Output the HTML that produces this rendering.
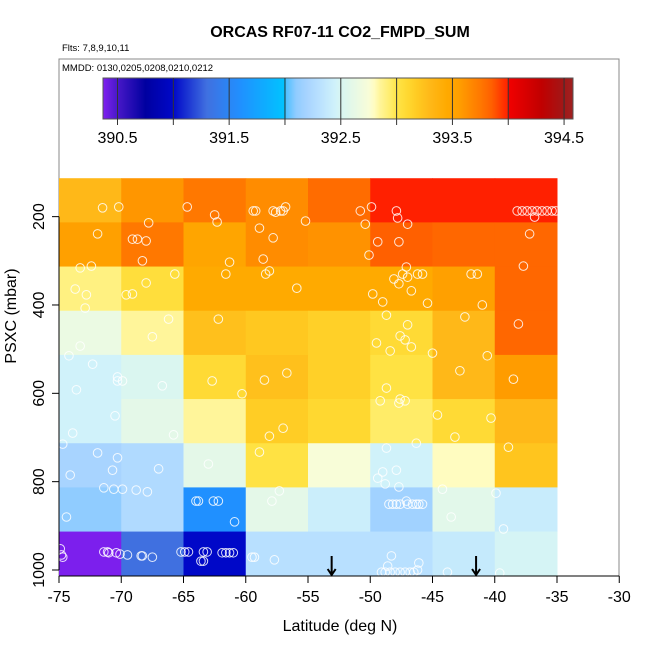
<!DOCTYPE html>
<html><head><meta charset="utf-8"><style>
body{margin:0;background:#fff;}
svg text{font-family:"Liberation Sans",sans-serif;}
</style></head><body>
<svg id="chart" width="650" height="650" xmlns="http://www.w3.org/2000/svg">
<defs><clipPath id="pc"><rect x="59" y="59" width="560" height="517"/></clipPath></defs>
<text x="340" y="37" font-size="16" font-weight="bold" text-anchor="middle">ORCAS RF07-11 CO2_FMPD_SUM</text>
<text x="62" y="51" font-size="9.5">Flts: 7,8,9,10,11</text>
<rect x="59" y="59" width="560" height="517" fill="none" stroke="#888" stroke-width="1"/>
<text x="62" y="71" font-size="9.5">MMDD: 0130,0205,0208,0210,0212</text>
<g id="cells" clip-path="url(#pc)"></g>
<g id="pts" clip-path="url(#pc)"></g>
<g id="arrows"></g>
<g id="cbar"></g>
<g id="axes"></g>
<text x="340" y="631" font-size="16" text-anchor="middle">Latitude (deg N)</text>
<text x="0" y="0" font-size="16" text-anchor="middle" transform="translate(16,316) rotate(-90)">PSXC (mbar)</text>
</svg>
<script>
const lonEdges=[-75,-70,-65,-60,-55,-50,-45,-40,-35];
const presEdges=[113,213,313,413,513,613,713,813,913,1016];
const cellValues=[
[393.3,393.6,393.75,393.65,393.8,394.0,394.0,394.0],
[393.55,393.75,393.5,393.65,393.62,393.85,393.82,393.82],
[392.9,393.05,393.45,393.45,393.45,393.45,393.55,393.82],
[392.65,392.85,393.25,393.2,393.15,393.08,393.3,393.82],
[392.45,392.52,393.08,393.25,393.15,393.02,393.3,393.57],
[392.45,392.6,392.85,393.17,393.1,392.95,393.08,393.3],
[392.2,392.25,392.6,393.02,392.75,392.45,392.8,393.22],
[392.1,392.25,391.6,392.6,392.42,392.17,392.58,392.4],
[390.38,391.3,391.0,392.3,392.3,392.3,392.38,392.48]];
const xTicks=[-75,-70,-65,-60,-55,-50,-45,-40,-35,-30];
const yTicks=[200,400,600,800,1000];
const cbTicks=[390.5,391,391.5,392,392.5,393,393.5,394,394.5];
const cbLabels=["390.5","391.5","392.5","393.5","394.5"];
const arrowLon=[-53.1,-41.5];
const ptLon=[-71.5,-70.2,-67.8,-71.9,-69.1,-68.7,-68.0,-68.3,-73.3,-72.4,-64.7,-62.5,-62.3,-59.4,-59.2,-57.8,-57.6,-57.2,-57.0,-56.8,-55.2,-58.9,-57.8,-61.3,-58.6,-50.8,-49.9,-47.9,-47.8,-47.0,-50.4,-49.4,-47.7,-50.1,
-38.2,-37.8,-37.4,-37.0,-36.6,-36.2,-35.8,-35.4,-35.1,-36.8,-37.2,-37.7,
-65.7,-68.0,-61.6,-58.4,-58.1,-55.9,-73.7,-72.8,-72.9,-69.6,-69.1,-47.1,-47.4,-47.0,-48.1,-47.7,-46.2,-45.8,-46.7,-49.8,-49.0,-45.4,-41.9,-41.4,-41.0,-42.4,-38.1,-62.2,-66.2,-67.5,-73.3,-74.2,-72.3,-48.7,-47.0,-47.6,-47.2,-46.7,-49.5,-48.4,-45.0,-40.6,-42.8,-38.5,-56.7,-62.7,-58.5,-70.3,-69.9,-70.3,-73.6,-66.7,-60.3,-48.7,-49.2,-47.7,-47.6,-47.2,-44.6,-40.3,-43.2,-46.3,-70.5,-73.9,-74.7,-65.8,-58.1,-57.0,-58.9,-38.9,-48.7,-71.9,-70.3,-70.7,-67.0,-74.1,-63.0,-49.0,-47.9,-49.4,-48.8,-47.7,-44.2,-39.9,-71.4,-70.6,-69.9,-68.8,-67.9,-57.3,-57.9,-64.0,-63.8,-62.6,-62.2,-60.9,-74.4,-43.5,-39.3,
-48.5,-48.2,-47.9,-47.6,-47.0,-46.6,-46.3,-46.1,-45.8,-47.1,
-74.9,-74.8,-74.7,-71.4,-71.1,-71.0,-70.4,-70.1,-69.5,-68.4,-68.3,-67.5,-65.2,-64.9,-64.6,-63.4,-63.1,-61.9,-61.6,-61.3,-61.0,-63.6,-63.4,-59.5,-59.3,-57.7,-48.3,-48.6,-46.1,-46.2,
-49.1,-48.8,-48.4,-48.0,-47.6,-47.2,-46.8,-46.5,-43.8,-39.6];
const ptP=[180,178,214,239,251,251,255,300,316,312,178,196,212,187,187,187,190,187,187,178,210,226,248,303,296,187,178,187,203,217,217,257,257,287,
187,187,187,187,187,187,187,187,187,201,239,312,
330,350,330,330,323,362,364,377,407,377,375,314,330,337,341,352,330,330,368,375,393,396,330,330,400,427,443,432,432,472,493,515,534,423,445,470,479,495,486,504,509,515,549,568,554,572,570,563,572,572,592,583,601,588,617,622,613,617,649,656,699,713,651,690,715,694,697,679,733,722,724,735,746,774,771,785,760,778,774,792,805,812,817,826,814,817,817,819,823,821,844,844,844,844,844,891,880,880,907,
851,851,851,851,851,851,851,851,851,844,
952,966,971,959,959,961,961,964,966,968,968,971,959,959,959,959,959,961,961,961,961,980,980,971,971,977,968,991,984,1000,
1005,1005,1005,1005,1005,1005,1005,1005,1005,1007];
const colorStops=[[390.37,"#8020F0"],[390.5,"#4818C8"],[390.75,"#0000A0"],[391.0,"#0008C8"],[391.3,"#4070E0"],[391.6,"#2090FF"],[392.0,"#00C4FF"],[392.01,"#50C0FF"],[392.1,"#90CCFF"],[392.2,"#A8D4FF"],[392.3,"#B8E0FF"],[392.45,"#D0F2FA"],[392.5,"#D8F6F2"],[392.6,"#E4F8E8"],[392.75,"#F8FDD8"],[392.8,"#FFFCC0"],[392.85,"#FFF59A"],[392.95,"#FFEC68"],[393.0,"#FFE448"],[393.1,"#FFD830"],[393.2,"#FFC820"],[393.3,"#FFB818"],[393.45,"#FFAA00"],[393.55,"#FFA000"],[393.65,"#FF8C00"],[393.75,"#FF7800"],[393.85,"#FF6000"],[394.0,"#FF2000"],[394.01,"#F00000"],[394.3,"#C00000"],[394.5,"#A01818"],[394.58,"#A02020"]];

const NS="http://www.w3.org/2000/svg";
const xs=v=>59+(v+75)*12.45;
const ys=p=>570+(p-1000)*0.4417;
const cx=v=>103+(v-390.37)*(470/(394.58-390.37));
function hex(h){return [1,3,5].map(i=>parseInt(h.substr(i,2),16));}
function col(v){
  if(v<=colorStops[0][0])return colorStops[0][1];
  for(let i=1;i<colorStops.length;i++){
    if(v<=colorStops[i][0]){
      const a=hex(colorStops[i-1][1]),b=hex(colorStops[i][1]);
      const t=(v-colorStops[i-1][0])/(colorStops[i][0]-colorStops[i-1][0]);
      return "rgb("+a.map((c,k)=>Math.round(c+(b[k]-c)*t)).join(",")+")";
    }
  }
  return colorStops[colorStops.length-1][1];
}
function mk(tag,attrs,parent){const e=document.createElementNS(NS,tag);for(const k in attrs)e.setAttribute(k,attrs[k]);parent.appendChild(e);return e;}
const gC=document.getElementById('cells');
for(let r=0;r<cellValues.length;r++)for(let c=0;c<cellValues[r].length;c++){
  const e=mk('rect',{x:xs(lonEdges[c]),y:ys(presEdges[r]),width:xs(lonEdges[c+1])-xs(lonEdges[c])+0.5,height:ys(presEdges[r+1])-ys(presEdges[r])+0.5,fill:col(cellValues[r][c])},gC);
  
  
}
const gP=document.getElementById('pts');
for(let i=0;i<ptLon.length;i++){
  const e=mk('circle',{cx:xs(ptLon[i]),cy:ys(ptP[i]),r:4.3,fill:"none",stroke:"#fff","stroke-width":1,"stroke-opacity":0.85},gP);
  
  
}
const gA=document.getElementById('arrows');
arrowLon.forEach(l=>{
  const x=xs(l);
  const e=mk('path',{d:`M${x},556 L${x},575 M${x-4},569 L${x},575 L${x+4},569`,stroke:"#000","stroke-width":2,fill:"none"},gA);
  
  
});
const gB=document.getElementById('cbar');
for(let x=103;x<573;x+=1){
  const v=390.37+(x+0.5-103)*(394.58-390.37)/470;
  mk('rect',{x:x,y:78,width:1.2,height:41,fill:col(v)},gB);
}
const cbf=mk('rect',{x:103,y:78,width:470,height:41,fill:"none",stroke:"#555","stroke-width":1},gB);


cbTicks.forEach(v=>{mk('line',{x1:cx(v),x2:cx(v),y1:78,y2:125,stroke:"#333","stroke-width":1},gB);});
cbLabels.forEach(s=>{
  const e=mk('text',{x:cx(parseFloat(s)),y:143,"font-size":16,"text-anchor":"middle"},gB);e.textContent=s;
  
  
});
const gX=document.getElementById('axes');
mk('line',{x1:59,x2:xs(-30),y1:576,y2:576,stroke:"#000","stroke-width":1},gX);
xTicks.forEach(v=>{
  mk('line',{x1:xs(v),x2:xs(v),y1:576,y2:583,stroke:"#000"},gX);
  const e=mk('text',{x:xs(v),y:602,"font-size":16,"text-anchor":"middle"},gX);e.textContent=v;
  
  
});
mk('line',{x1:59,x2:59,y1:ys(200),y2:ys(1000),stroke:"#000"},gX);
yTicks.forEach(v=>{
  mk('line',{x1:52,x2:59,y1:ys(v),y2:ys(v),stroke:"#000"},gX);
  const e=mk('text',{x:0,y:0,"font-size":16,"text-anchor":"middle",transform:`translate(44,${ys(v)}) rotate(-90)`},gX);e.textContent=v;
  
  
});
</script>
</body></html>
